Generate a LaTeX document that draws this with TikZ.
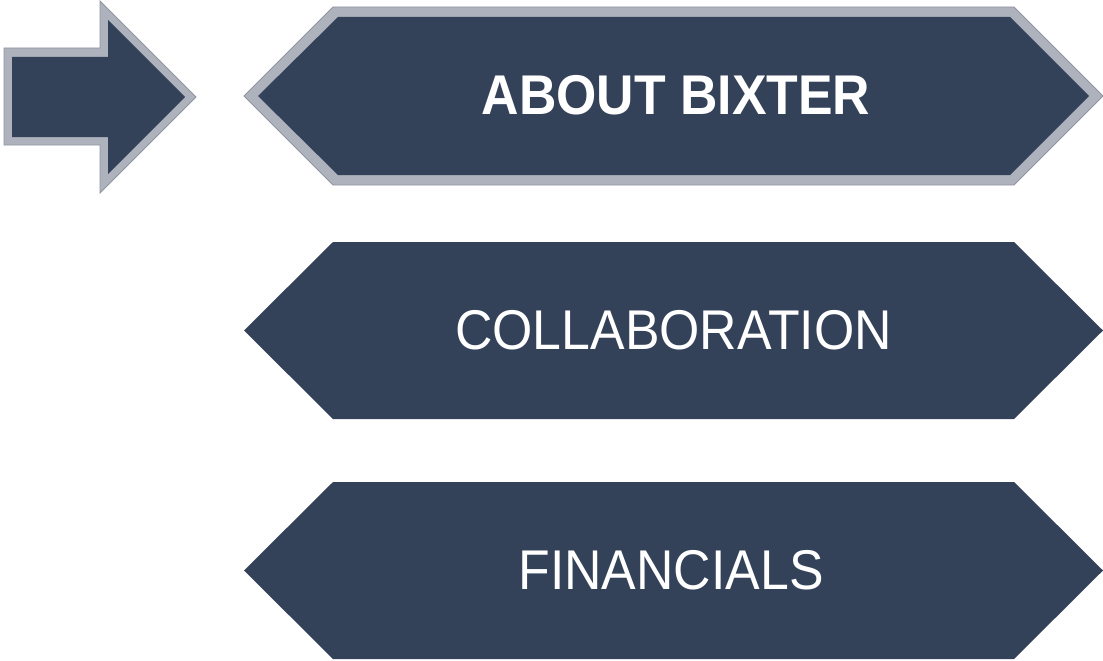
\documentclass[tikz,border=0pt]{standalone}
\usepackage{fontspec}
\usepackage{graphicx}
\usepackage{xcolor}
\usepackage{tikz}
\setmainfont{Liberation Sans}
\definecolor{bixnavy}{HTML}{344259}
\definecolor{bixgray}{HTML}{ADB2BC}
\definecolor{bixedge}{HTML}{8F959F}
\newcommand{\narrowtext}[1]{\scalebox{0.925}[1]{#1}}

\begin{document}
\begin{tikzpicture}[x=1pt,y=-1pt,
    rim/.style={fill=bixgray, draw=bixedge, line width=0.8pt},
    panel/.style={fill=bixnavy, draw=none},
    label/.style={text=white, inner sep=0pt, font=\fontsize{56}{60}\selectfont}]
    \useasboundingbox (0,0) rectangle (1103,661);

    % pointer arrow
    \draw[rim] (4,48) -- (100,48) -- (100,1) -- (196,97) -- (100,193) -- (100,145) -- (4,145) -- cycle;
    \fill[panel] (12,57) -- (108,57) -- (108,20) -- (185,97) -- (108,174) -- (108,137) -- (12,137) -- cycle;

    % selected item
    \draw[rim] (244,96) -- (333,7) -- (1014,7) -- (1103,96) -- (1014,185) -- (333,185) -- cycle;
    \fill[panel] (258,96) -- (338,17) -- (1010,17) -- (1089,96) -- (1010,175) -- (338,175) -- cycle;
    \node[label,font=\fontsize{56}{60}\selectfont\bfseries] (about) at (676,95) {\narrowtext{ABOUT BIXTER}};

    % other items
    \fill[panel] (244,330.5) -- (333,242) -- (1014,242) -- (1103,330.5) -- (1014,419) -- (333,419) -- cycle;
    \node[label] (collab) at (673.5,330) {\narrowtext{COLLABORATION}};

    \fill[panel] (244,570.5) -- (333,482) -- (1014,482) -- (1103,570.5) -- (1014,659) -- (333,659) -- cycle;
    \node[label] (fin) at (671,570) {\narrowtext{FINANCIALS}};
\end{tikzpicture}
\end{document}
